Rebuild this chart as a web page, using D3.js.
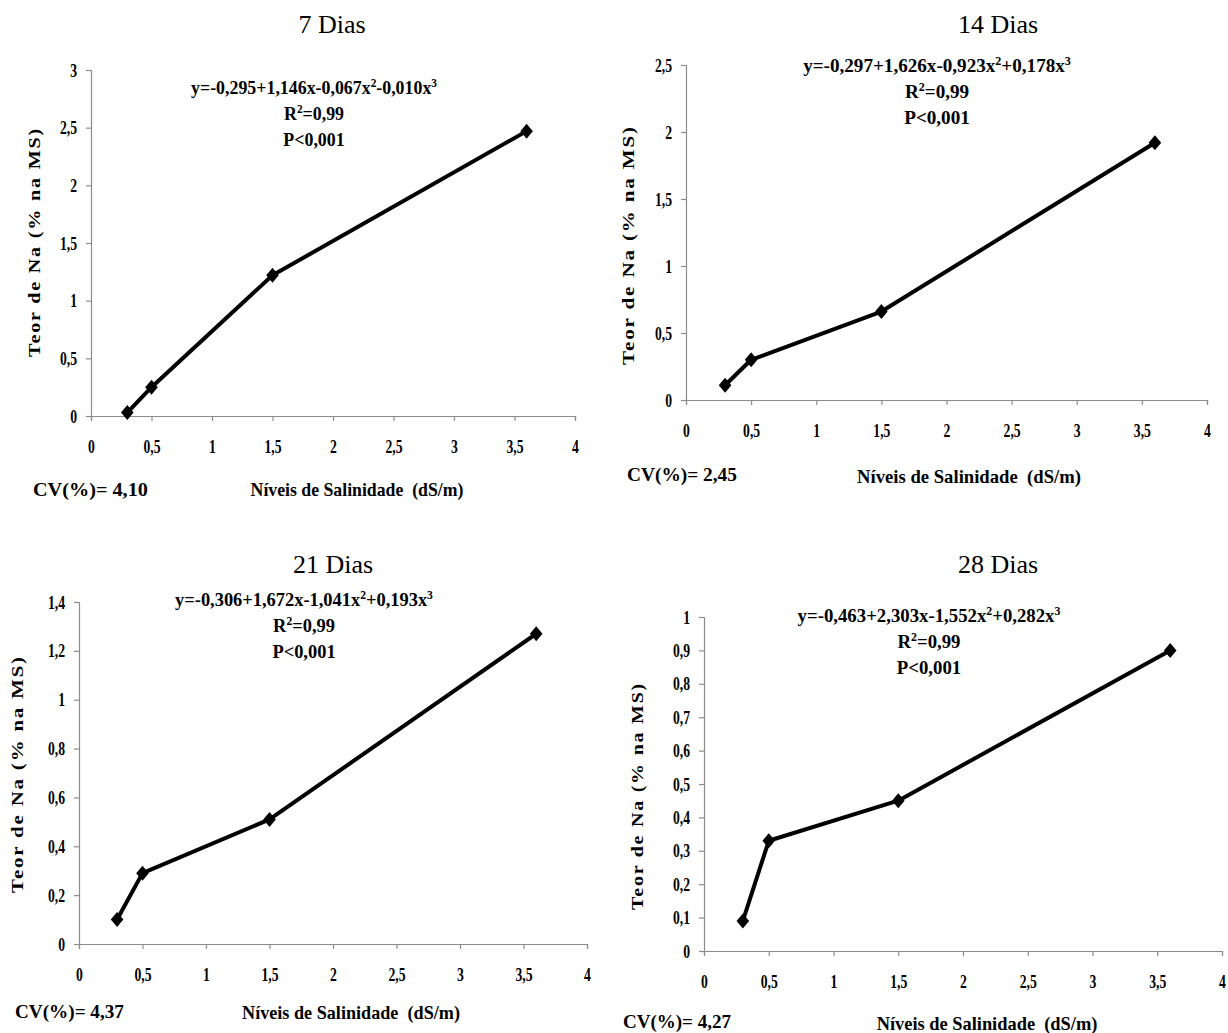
<!DOCTYPE html>
<html><head><meta charset="utf-8">
<script src="https://cdn.jsdelivr.net/npm/d3@7"></script>
<style>body{margin:0;background:#fff}svg{display:block}</style>
</head><body>
<svg id="c" width="1228" height="1033"></svg>
<script>
// ---- data ----
const salinity = [0.3, 0.5, 1.5, 3.6];
const titles = ["7 Dias", "14 Dias", "21 Dias", "28 Dias"];
const na7 = [0.03, 0.25, 1.22, 2.47];
const na14 = [0.11, 0.30, 0.66, 1.92];
const na21 = [0.10, 0.29, 0.51, 1.27];
const na28 = [0.09, 0.33, 0.45, 0.90];
const yMaxes = [3, 2.5, 1.4, 1];
const yStep = [0.5, 0.5, 0.2, 0.1];
const xTicks = [0, 0.5, 1, 1.5, 2, 2.5, 3, 3.5, 4];
const eqParts = [
  ["y=-0,295+1,146x-0,067x", "2", "-0,010x", "3"],
  ["y=-0,297+1,626x-0,923x", "2", "+0,178x", "3"],
  ["y=-0,306+1,672x-1,041x", "2", "+0,193x", "3"],
  ["y=-0,463+2,303x-1,552x", "2", "+0,282x", "3"]
];
const r2Text = "0,99";
const pText = "P<0,001";
const cvValues = ["4,10", "2,45", "4,37", "4,27"];
const xLabel = "Níveis de Salinidade  (dS/m)";
const yLabel = "Teor de Na (% na MS)";
const series = [na7, na14, na21, na28];

// ---- layout (pixels) ----
const layout = [
  {x0:91, x1:575, yb:416, yt:70, title:[332,33], eq:[314,94], eqW:246, yl:[34,242], ylH:230, xl:[357,496], xlW:213, cv:[33,496], cvW:115},
  {x0:686, x1:1207, yb:400, yt:65, title:[998,33], eq:[937,72], eqW:268, yl:[628,245], ylH:240, xl:[969,483], xlW:224, cv:[627,481], cvW:110},
  {x0:79, x1:587, yb:944, yt:602, title:[333,573], eq:[304,606], eqW:258, yl:[17,774], ylH:238, xl:[351,1019], xlW:218, cv:[15,1018], cvW:109},
  {x0:704, x1:1222, yb:951, yt:617, title:[998,573], eq:[929,622], eqW:263, yl:[637,796], ylH:228, xl:[987,1030], xlW:221, cv:[623,1028], cvW:108}
];

const svg = d3.select("#c");
const FONT = "'Liberation Serif','Times New Roman',serif";
const fmt = d => (+(+d).toFixed(2)).toString().replace(".", ",");

function fitH(sel, target) {
  const w = sel.node().getBBox().width;
  return target / w;
}
const diamond = "M0,-7.5L6.3,0L0,7.5L-6.3,0Z";

series.forEach((vals, i) => {
  const L = layout[i];
  const g = svg.append("g");
  const x = d3.scaleLinear().domain([0, 4]).range([L.x0, L.x1]);
  const y = d3.scaleLinear().domain([0, yMaxes[i]]).range([L.yb, L.yt]);
  const n = Math.round(yMaxes[i] / yStep[i]);
  const yT = d3.range(n + 1).map(k => +(k * yStep[i]).toFixed(2));

  // axes
  const ax = g.append("g").attr("transform", `translate(0,${L.yb})`)
    .call(d3.axisBottom(x).tickValues(xTicks).tickFormat(fmt).tickSize(5).tickPadding(19));
  const ay = g.append("g").attr("transform", `translate(${L.x0},0)`)
    .call(d3.axisLeft(y).tickValues(yT).tickFormat(fmt).tickSize(5).tickPadding(0));
  [ax, ay].forEach(a => {
    a.select(".domain").attr("stroke", "#8c8c8c").attr("stroke-width", 1.2);
    a.selectAll(".tick line").attr("stroke", "#8c8c8c").attr("stroke-width", 1.2);
    a.selectAll(".tick text").attr("fill", "#000").attr("font-family", FONT)
      .attr("font-weight", "bold").attr("font-size", 19);
  });
  ax.selectAll(".tick text").attr("transform", "scale(0.72,1)");
  ay.selectAll(".tick text").attr("x", 0).attr("transform", "translate(-14,0) scale(0.72,1)");

  // line
  const line = d3.line().x((d, k) => x(salinity[k])).y(d => y(d));
  g.append("path").datum(vals).attr("d", line).attr("fill", "none")
    .attr("stroke", "#000").attr("stroke-width", 4).attr("stroke-linejoin", "round");
  g.selectAll(".mk").data(vals).join("path")
    .attr("d", diamond)
    .attr("transform", (d, k) => `translate(${x(salinity[k])},${y(d)})`)
    .attr("fill", "#000");

  // title
  g.append("text").attr("x", L.title[0]).attr("y", L.title[1]).attr("text-anchor", "middle")
    .attr("font-family", FONT).attr("font-size", 26).attr("fill", "#000").text(titles[i]);

  // equation block
  const eq = g.append("text").attr("text-anchor", "middle").attr("font-family", FONT)
    .attr("font-weight", "bold").attr("font-size", 19).attr("fill", "#000");
  const p = eqParts[i];
  eq.append("tspan").text(p[0]);
  eq.append("tspan").attr("font-size", 12).attr("dy", -7).text(p[1]);
  eq.append("tspan").attr("dy", 7).text(p[2]);
  eq.append("tspan").attr("font-size", 12).attr("dy", -7).text(p[3]);
  const se = fitH(eq, L.eqW);
  eq.attr("transform", `translate(${L.eq[0]},${L.eq[1]}) scale(${se},1)`);

  const r2 = g.append("text").attr("text-anchor", "middle").attr("font-family", FONT)
    .attr("font-weight", "bold").attr("font-size", 19).attr("fill", "#000")
    .attr("transform", `translate(${L.eq[0]},${L.eq[1] + 26}) scale(${se},1)`);
  r2.append("tspan").text("R");
  r2.append("tspan").attr("font-size", 12).attr("dy", -7).text("2");
  r2.append("tspan").attr("dy", 7).text("=" + r2Text);
  g.append("text").attr("text-anchor", "middle").attr("font-family", FONT)
    .attr("font-weight", "bold").attr("font-size", 19).attr("fill", "#000")
    .attr("transform", `translate(${L.eq[0]},${L.eq[1] + 52}) scale(${se},1)`).text(pText);

  // y label
  const yl = g.append("text").attr("text-anchor", "middle").attr("font-family", FONT)
    .attr("font-weight", "bold").attr("font-size", 17).attr("letter-spacing", 1.5)
    .attr("fill", "#000").text(yLabel);
  const sy = fitH(yl, L.ylH);
  yl.attr("transform", `translate(${L.yl[0] + 6},${L.yl[1]}) rotate(-90) scale(${sy},1)`);

  // x label
  const xl = g.append("text").attr("text-anchor", "middle").attr("font-family", FONT)
    .attr("font-weight", "bold").attr("font-size", 18).attr("fill", "#000")
    .style("white-space", "pre").text(xLabel);
  const sx = fitH(xl, L.xlW);
  xl.attr("transform", `translate(${L.xl[0]},${L.xl[1]}) scale(${sx},1)`);

  // CV
  const cv = g.append("text").attr("font-family", FONT)
    .attr("font-weight", "bold").attr("font-size", 18).attr("fill", "#000")
    .text("CV(%)= " + cvValues[i]);
  const sc = fitH(cv, L.cvW);
  cv.attr("transform", `translate(${L.cv[0]},${L.cv[1]}) scale(${sc},1)`);
});
</script>
</body></html>
